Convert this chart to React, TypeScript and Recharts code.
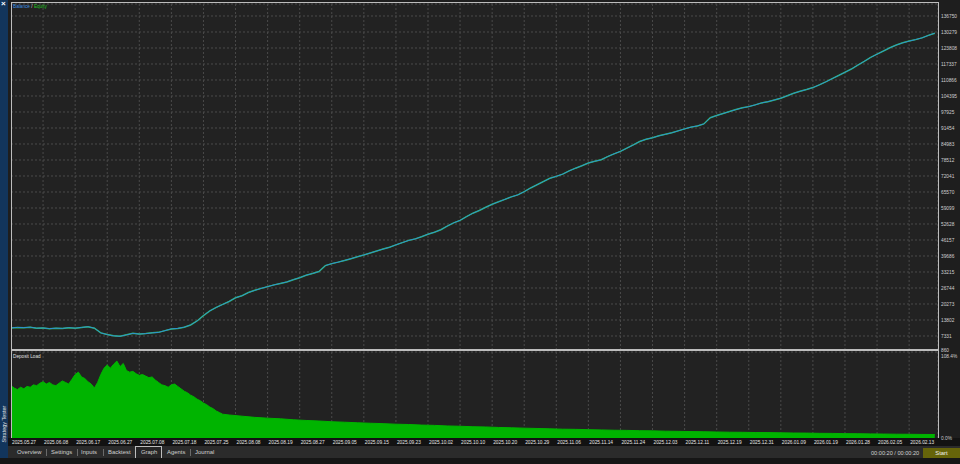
import React from 'react';
import { LineChart, Line, AreaChart, Area, XAxis, YAxis, CartesianGrid } from 'recharts';

// x-axis date labels, one every LABEL_STEP points
const dateLabels = [
  '2025.05.27', '2025.06.08', '2025.06.17', '2025.06.27', '2025.07.08', '2025.07.18', '2025.07.25',
  '2025.08.08', '2025.08.19', '2025.08.27', '2025.09.05', '2025.09.15', '2025.09.23', '2025.10.02',
  '2025.10.10', '2025.10.20', '2025.10.29', '2025.11.06', '2025.11.14', '2025.11.24', '2025.12.03',
  '2025.12.11', '2025.12.19', '2025.12.31', '2026.01.09', '2026.01.19', '2026.01.28', '2026.02.05',
  '2026.02.13',
];

const balanceTicks = [
  860, 7331, 13802, 20273, 26744, 33215, 39686, 46157, 52628, 59099, 65570,
  72041, 78512, 84983, 91454, 97925, 104395, 110866, 117337, 123808, 130279, 136750,
];

const loadTicks = [0, 108.4];

// equity / balance curve, one value per point
const equity = [
  10600, 10800, 10700, 10900, 10500, 10600, 10300, 10500, 10400, 10700,
  10500, 10800, 11100, 10500, 8600, 7900, 7400, 7200, 7800, 8400,
  8100, 8300, 8600, 8800, 9500, 10200, 10400, 10900, 11800, 13400,
  15600, 17500, 18900, 20100, 21300, 22800, 23600, 24900, 25800, 26600,
  27300, 28000, 28600, 29200, 30100, 30900, 31900, 32600, 33400, 35800,
  36600, 37200, 37900, 38600, 39400, 40100, 40900, 41700, 42500, 43200,
  44200, 45100, 46000, 46600, 47500, 48500, 49300, 50300, 51800, 53100,
  54100, 55600, 57000, 58100, 59400, 60600, 61600, 62600, 63600, 64400,
  65700, 67200, 68500, 69800, 71100, 71900, 72800, 74100, 75200, 76200,
  77300, 78000, 78600, 79900, 81000, 82000, 83300, 84600, 86000, 86900,
  87500, 88300, 88900, 89500, 90300, 91100, 91800, 92300, 93100, 95600,
  96500, 97300, 98100, 98900, 99600, 100100, 100800, 101600, 102100, 102800,
  103500, 104500, 105500, 106300, 107000, 107800, 108900, 110100, 111400, 112700,
  114000, 115300, 116900, 118400, 120000, 121300, 122600, 123900, 125000, 125900,
  126600, 127200, 127900, 128900, 129800,
];

// deposit load %, dense at the start (half-point step), sparser in the tail (2-point step)
const loadHead = [
  66, 63, 61, 64, 62, 65, 64, 67, 66, 69, 71, 68, 70, 67, 66, 69, 72, 70, 68, 74,
  80, 83, 77, 75, 71, 68, 63, 70, 80, 88, 92, 88, 93, 97, 90, 94, 85, 83, 84, 81,
  79, 80, 78, 76, 77, 73, 70, 67, 66, 64, 67, 68, 65, 62, 59, 57, 54, 52, 49, 47,
  44, 42, 39, 37, 34, 32, 30,
];
const loadTail = [
  29, 27.5, 26, 25, 24.2, 23, 22.1, 21.4, 20.5, 19.9, 19.2, 18.6, 18.1, 17.4, 17.0,
  16.3, 15.9, 15.2, 14.8, 14.2, 13.9, 13.3, 12.9, 12.4, 12.0, 11.6, 11.1, 10.9, 10.5,
  10.2, 9.8, 9.6, 9.2, 9.0, 8.6, 8.4, 8.1, 7.9, 7.6, 7.3, 7.2, 6.9, 6.8, 6.5, 6.3,
  6.2, 5.9, 5.8, 5.5, 5.4, 5.2, 5.0, 4.8, 4.7, 4.5, 4.4,
];

const LABEL_STEP = 5;
const X_MAX = 144.5;
const xTicks = dateLabels.map((_, i) => i * LABEL_STEP);

const equityData = equity.map((v, i) => ({ x: i, equity: v, balance: v }));
const loadData = [
  ...loadHead.map((v, i) => ({ x: i * 0.5, load: v })),
  ...loadTail.map((v, i) => ({ x: 34 + i * 2, load: v })),
];

const FONT = '"Liberation Sans", Arial, sans-serif';
const gridColor = '#4a4a4a';

const DateTick = (props: any) => {
  const { x, y, payload } = props;
  return (
    <text x={x + 1} y={y + 6} fill="#e6e6e6" fontSize={4.8} fontFamily={FONT} textAnchor="start">
      {dateLabels[Math.round(payload.value / LABEL_STEP)]}
    </text>
  );
};

// right-hand value labels; the lowest balance label is nudged up, the top load label down,
// so the two don't sit on top of each other at the panel split
const BalanceTick = (props: any) => {
  const { x, y, payload } = props;
  const dy = payload.value === balanceTicks[0] ? -1.5 : 0;
  return (
    <text x={x} y={y + dy + 1.7} fill="#cfcfcf" fontSize={4.8} fontFamily={FONT} textAnchor="start">
      {payload.value}
    </text>
  );
};

const LoadTick = (props: any) => {
  const { x, y, payload } = props;
  const dy = payload.value === loadTicks[1] ? 4 : 0;
  return (
    <text x={x} y={y + dy + 1.7} fill="#cfcfcf" fontSize={4.8} fontFamily={FONT} textAnchor="start">
      {payload.value.toFixed(1) + '%'}
    </text>
  );
};

const tabs = [
  { label: 'Overview', x: 17 },
  { label: 'Settings', x: 51 },
  { label: 'Inputs', x: 81 },
  { label: 'Backtest', x: 108 },
  { label: 'Graph', x: 141 },
  { label: 'Agents', x: 167 },
  { label: 'Journal', x: 195 },
];
const tabSeparators = [46, 77, 103, 190];

export default function App() {
  return (
    <div style={{ position: 'fixed', left: 0, top: 0, width: 960, height: 464, background: '#1e1e1e', overflow: 'hidden', fontFamily: FONT }}>
      {/* left sidebar */}
      <div style={{ position: 'absolute', left: 0, top: 0, width: 8, height: 458, background: '#12355c' }} />
      <div style={{ position: 'absolute', left: 1, top: -1, fontSize: 8, color: '#fff', fontWeight: 700 }}>×</div>
      <div style={{ position: 'absolute', left: -17, top: 421, width: 42, fontSize: 5.5, color: '#e0e0e0', transform: 'rotate(-90deg)', whiteSpace: 'nowrap', textAlign: 'center' }}>
        Strategy Tester
      </div>

      {/* panel backgrounds */}
      <div style={{ position: 'absolute', left: 11, top: 3, width: 927, height: 348, background: '#222' }} />
      <div style={{ position: 'absolute', left: 11, top: 351, width: 927, height: 87, background: '#222' }} />
      <div style={{ position: 'absolute', left: 8, top: 438, width: 952, height: 8, background: '#121212' }} />

      {/* deposit load chart */}
      <div style={{ position: 'absolute', left: 11, top: 351 }}>
        <AreaChart width={949} height={97} data={loadData} margin={{ top: 1, right: 0, left: 0, bottom: 0 }}>
          <CartesianGrid stroke={gridColor} strokeDasharray="2 2" horizontal={false} />
          <XAxis
            type="number"
            dataKey="x"
            domain={[0, X_MAX]}
            ticks={xTicks}
            interval={0}
            height={10}
            axisLine={false}
            tickLine={false}
            tickSize={0}
            tickMargin={0}
            tick={<DateTick />}
          />
          <YAxis
            orientation="right"
            domain={[0, 108.4]}
            ticks={loadTicks}
            interval={0}
            width={22}
            axisLine={false}
            tickLine={false}
            tickSize={0}
            tickMargin={3}
            tick={<LoadTick />}
          />
          <Area type="linear" dataKey="load" stroke="#00b400" strokeWidth={1} fill="#00b400" fillOpacity={1} isAnimationActive={false} />
        </AreaChart>
      </div>

      {/* balance / equity chart */}
      <div style={{ position: 'absolute', left: 11, top: 3 }}>
        <LineChart width={949} height={352} data={equityData} margin={{ top: 1, right: 0, left: 0, bottom: 3 }}>
          <CartesianGrid stroke={gridColor} strokeDasharray="2 2" />
          <XAxis type="number" dataKey="x" domain={[0, X_MAX]} ticks={xTicks} hide />
          <YAxis
            orientation="right"
            domain={[860, 141600]}
            ticks={balanceTicks}
            interval={0}
            width={22}
            axisLine={false}
            tickLine={false}
            tickSize={0}
            tickMargin={3}
            tick={<BalanceTick />}
          />
          <Line type="linear" dataKey="equity" stroke="#2db84a" strokeWidth={1.5} dot={false} isAnimationActive={false} />
          <Line type="linear" dataKey="balance" stroke="#2f8fd8" strokeWidth={1} dot={false} isAnimationActive={false} />
        </LineChart>
      </div>

      {/* frames */}
      <div style={{ position: 'absolute', left: 11, top: 2, width: 928, height: 349, border: '1px solid #bdbdbd', borderBottom: 'none', boxSizing: 'border-box' }} />
      <div style={{ position: 'absolute', left: 11, top: 349, width: 928, height: 2, background: '#bdbdbd' }} />
      <div style={{ position: 'absolute', left: 938, top: 351, width: 1, height: 87, background: '#bdbdbd' }} />
      <div style={{ position: 'absolute', left: 11, top: 351, width: 1, height: 87, background: '#bdbdbd' }} />

      {/* panel captions */}
      <div style={{ position: 'absolute', left: 13, top: 3, fontSize: 4.7, lineHeight: '7px' }}>
        <span style={{ color: '#3d8fe0' }}>Balance</span>
        <span style={{ color: '#ddd' }}> / </span>
        <span style={{ color: '#22c022' }}>Equity</span>
      </div>
      <div style={{ position: 'absolute', left: 13, top: 353, fontSize: 4.7, lineHeight: '7px', color: '#e0e0e0' }}>Deposit Load</div>

      {/* tab bar */}
      <div style={{ position: 'absolute', left: 8, top: 446, width: 952, height: 12, background: '#2b2b2b' }} />
      <div style={{ position: 'absolute', left: 135, top: 446, width: 27, height: 12, border: '1px solid #bdbdbd', borderBottom: 'none', boxSizing: 'border-box', background: '#262626' }} />
      {tabs.map((t) => (
        <div key={t.label} style={{ position: 'absolute', left: t.x, top: 449, fontSize: 5.9, lineHeight: '7px', color: '#d0d0d0', whiteSpace: 'nowrap' }}>
          {t.label}
        </div>
      ))}
      {tabSeparators.map((x) => (
        <div key={x} style={{ position: 'absolute', left: x, top: 449, width: 1, height: 7, background: '#6a6a6a' }} />
      ))}
      <div style={{ position: 'absolute', left: 871, top: 450, fontSize: 5.6, lineHeight: '7px', color: '#d0d0d0', whiteSpace: 'nowrap' }}>
        00:00:20 / 00:00:20
      </div>
      <div style={{ position: 'absolute', left: 923, top: 448, width: 37, height: 10, background: '#66640a', color: '#f0f0f0', fontSize: 5.9, lineHeight: '10px', textAlign: 'center' }}>
        Start
      </div>
      <div style={{ position: 'absolute', left: 0, top: 458, width: 960, height: 6, background: '#161616' }} />
    </div>
  );
}
